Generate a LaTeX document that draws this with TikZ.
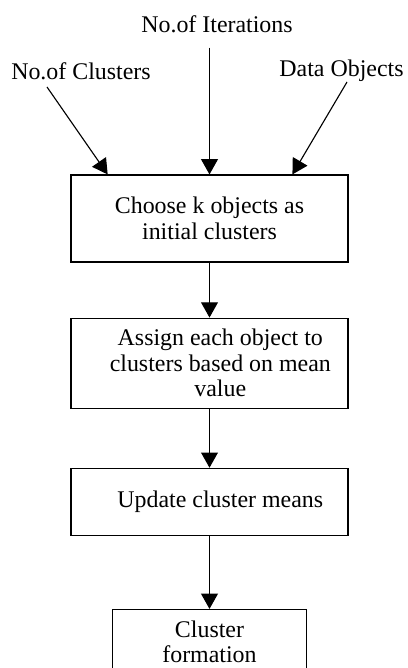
\documentclass[tikz,border=0pt]{standalone}
\usepackage{fontspec}
\setmainfont{Liberation Serif}
\usetikzlibrary{positioning, calc, arrows.meta}

\begin{document}
\begin{tikzpicture}[x=0.025cm, y=-0.025cm,
    font=\fontsize{17}{18.1}\selectfont,
    box/.style={draw, line width=0.8pt, align=center, minimum width=6.925cm, inner sep=0pt},
    flow/.style={-{Triangle[length=0.38cm, width=0.42cm]}, line width=0.8pt}]
      \useasboundingbox (0,0) rectangle (407,668);
      \clip (0,0) rectangle (407,668);

      \node (iter) at (217,24) {No.of Iterations};
      \node (clusters) at (81,71) {No.of Clusters};
      \node (data) at (341.5,71) {Data Objects};

      \node[box, minimum height=2.175cm] (choose) at (209.5,218.5) {Choose k objects as\\initial clusters};
      \node[box, minimum height=2.25cm, below=1.375cm of choose] (assign) {};
      \node[box, minimum height=1.675cm, below=1.475cm of assign] (update) {};
      \node[box, minimum width=4.85cm, minimum height=1.625cm, below=1.825cm of update] (formation) {Cluster\\formation};

      % text of the two middle boxes sits a little right of centre
      \node[align=center] (assign-text) at ([xshift=0.27cm]assign.center) {Assign each object to\\clusters based on mean\\value};
      \node (update-text) at ([xshift=0.27cm]update.center) {Update cluster means};

      \coordinate (clusters-out) at (47,87);
      \coordinate (data-out) at (347,82);

      \draw[flow] (clusters-out) -- ($(choose.north west)!0.134!(choose.north east)$);
      \draw[flow] ($(iter.south -| choose.north)+(0,10)$) -- (choose.north);
      \draw[flow] (data-out) -- ($(choose.north west)!0.798!(choose.north east)$);

      \draw[flow] (choose) -- (assign);
      \draw[flow] (assign) -- (update);
      \draw[flow] (update) -- (formation);
    \end{tikzpicture}
\end{document}
